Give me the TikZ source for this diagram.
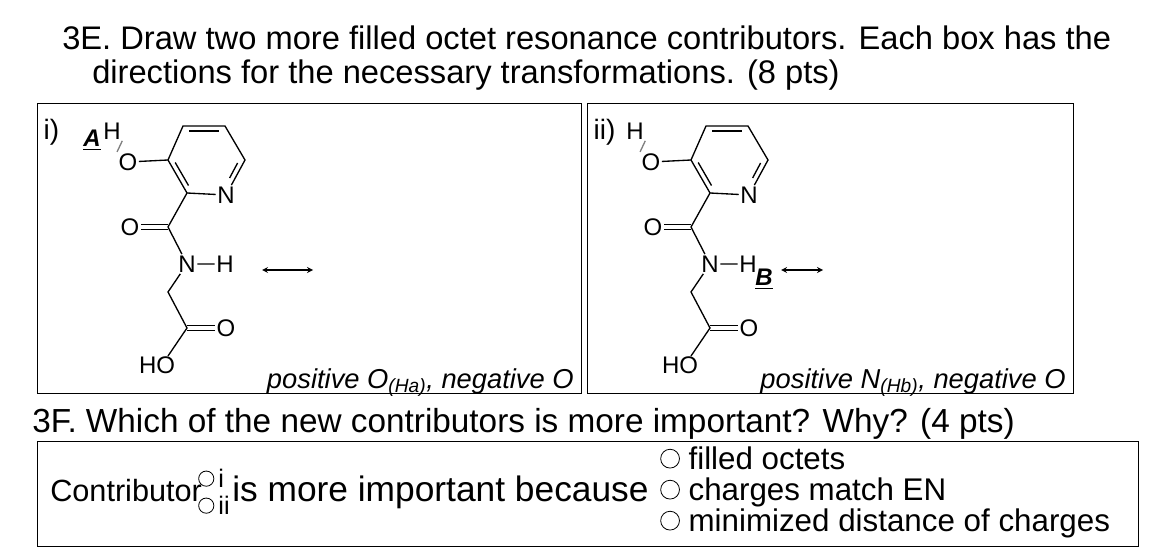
\documentclass[tikz,border=0pt]{standalone}
\usepackage{fontspec}
\setmainfont{Liberation Sans}
\newcommand\opc{\tikz[baseline=0pt]\draw[line width=0.6pt] (0,0.33em) circle (0.3em);}
\begin{document}
\begin{tikzpicture}[x=0.75pt,y=-0.75pt,
  atom/.style={font=\fontsize{18}{18}\selectfont,inner sep=1pt},
  bond/.style={line width=1pt},
  box/.style={draw,line width=1pt},
  big/.style={font=\fontsize{24.5}{26}\selectfont,anchor=base west,inner sep=0},
  opt/.style={font=\fontsize{23.5}{24}\selectfont,anchor=base west,inner sep=0},
  note/.style={font=\fontsize{20.5}{20}\selectfont\itshape,anchor=base east,inner sep=0}]
\useasboundingbox (0,0) rectangle (1176,556);
\node[big] (t0) at (62,50) {3E. Draw two more filled octet resonance contributors. Each box has the};
\node[big] (t1) at (92,84) {directions for the necessary transformations. (8 pts)};
\node[box,minimum width=544*0.75pt,minimum height=290*0.75pt,anchor=north west] (bi) at (37,103) {};
\node[box,minimum width=486*0.75pt,minimum height=290*0.75pt,anchor=north west] (bii) at (587,103) {};
\newcommand\mol[2]{%
\begin{scope}[shift={(#2,0)}]
\node[atom] (#1H) at (112,131) {H};
\node[atom] (#1O) at (128,162) {O};
\coordinate (#1c3) at (168,160);
\coordinate (#1c4) at (183,126);
\coordinate (#1c5) at (225,126);
\coordinate (#1c6) at (245,160);
\node[atom] (#1N) at (226,195) {N};
\coordinate (#1c2) at (187,193);
\coordinate (#1cc) at (168,227);
\node[atom] (#1Oc) at (130,227) {O};
\node[atom] (#1Na) at (187,264) {N};
\node[atom] (#1Ha) at (225,264) {H};
\coordinate (#1ch) at (168,292);
\coordinate (#1ca) at (187,328);
\node[atom] (#1Oa) at (226,328) {O};
\node[atom] (#1OH) at (157,365) {HO};
\draw[bond,gray] (#1H.south east) -- (#1O.north west);
\draw[bond] (#1O) -- (#1c3) -- (#1c4) -- (#1c5) -- (#1c6) -- (#1N) -- (#1c2) -- (#1c3);
\draw[bond] (189,131) -- (219,131);
\draw[bond] (237.6,163) -- (229.6,178);
\draw[bond] (175.2,162.5) -- (188.5,185.5);
\draw[bond] (#1c2) -- (#1cc) -- (#1Na) -- (#1Ha);
\draw[bond] ([yshift=-2.5*0.75pt]#1cc) -- ([yshift=-2.5*0.75pt]#1Oc.east);
\draw[bond] ([yshift=2.5*0.75pt]#1cc) -- ([yshift=2.5*0.75pt]#1Oc.east);
\draw[bond] (#1Na) -- (#1ch) -- (#1ca) -- (168,356);
\draw[bond] ([yshift=-2.5*0.75pt]#1ca) -- ([yshift=-2.5*0.75pt]#1Oa.west);
\draw[bond] ([yshift=2.5*0.75pt]#1ca) -- ([yshift=2.5*0.75pt]#1Oa.west);
\end{scope}}
\mol{a}{0}
\mol{b}{523}
\node[atom,font=\fontsize{21}{21}\selectfont,anchor=base west] (li) at (42,140) {i)};
\node[atom,font=\fontsize{18}{18}\selectfont\bfseries\itshape] (lA) at (92,140) {\underline{A}};
\node[atom,font=\fontsize{21}{21}\selectfont,anchor=base west] (lii) at (592,140) {ii)};
\node[atom,font=\fontsize{18}{18}\selectfont\bfseries\itshape] (lB) at (764,279) {\underline{B}};
\coordinate (a1) at (262,270); \coordinate (a2) at (313,270);
\draw[line width=1pt,<->,>=stealth] (a1) -- (a2);
\coordinate (b1) at (781,270); \coordinate (b2) at (823,270);
\draw[line width=1pt,<->,>=stealth] (b1) -- (b2);
\node[note] (ni) at (574,388) {positive O\textsubscript{(Ha)}, negative O};
\node[note] (nii) at (1066,388) {positive N\textsubscript{(Hb)}, negative O};
\node[big,font=\fontsize{25}{26}\selectfont] (t2) at (32,432) {3F. Which of the new contributors is more important? Why? (4 pts)};
\node[box,minimum width=1101*0.75pt,minimum height=105*0.75pt,anchor=north west] (bf) at (37,441) {};
\node[big,font=\fontsize{23}{23}\selectfont] (c1) at (50,501) {Contributor};
\node[opt,font=\fontsize{19}{19}\selectfont] (c2) at (198,487) {\opc\,i};
\node[opt,font=\fontsize{19}{19}\selectfont] (c3) at (198,514) {\opc\,ii};
\node[big,font=\fontsize{26.5}{26}\selectfont] (c4) at (232,501) {is more important because};
\node[opt] (c5) at (660,469) {\opc\ filled octets};
\node[opt] (c6) at (660,500) {\opc\ charges match EN};
\node[opt] (c7) at (660,531) {\opc\ minimized distance of charges};
\end{tikzpicture}
\end{document}
